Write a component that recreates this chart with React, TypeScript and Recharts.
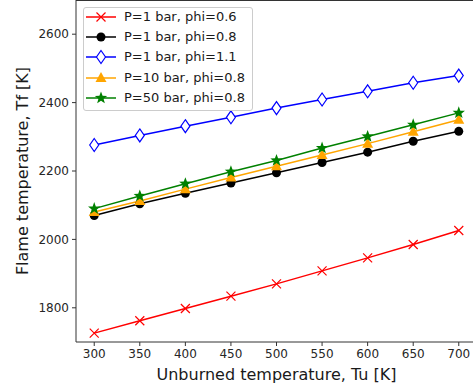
import React from 'react';
import { LineChart, Line, XAxis, YAxis, ReferenceLine } from 'recharts';

const temps = [300, 350, 400, 450, 500, 550, 600, 650, 700];
const p1Phi06 = [1726, 1762, 1798, 1834, 1870, 1908, 1946, 1985, 2026];
const p1Phi08 = [2070, 2104, 2135, 2165, 2195, 2225, 2255, 2287, 2316];
const p1Phi11 = [2276, 2304, 2331, 2357, 2384, 2409, 2433, 2458, 2479];
const p10Phi08 = [2080, 2112, 2147, 2181, 2214, 2247, 2280, 2315, 2350];
const p50Phi08 = [2090, 2127, 2163, 2198, 2231, 2267, 2301, 2335, 2370];
const xTicks = [300, 350, 400, 450, 500, 550, 600, 650, 700];
const yTicks = [1800, 2000, 2200, 2400, 2600];

const data = temps.map((t, i) => ({
  t,
  a: p1Phi06[i],
  b: p1Phi08[i],
  c: p1Phi11[i],
  d: p10Phi08[i],
  e: p50Phi08[i],
}));

type Kind = 'x' | 'o' | 'D' | '^' | '*';

function Marker({ kind, cx, cy, color }: { kind: Kind; cx: number; cy: number; color: string }) {
  if (kind === 'x') {
    const s = 4.5;
    return (
      <path
        d={`M${cx - s},${cy - s}L${cx + s},${cy + s}M${cx - s},${cy + s}L${cx + s},${cy - s}`}
        stroke={color}
        strokeWidth={1.2}
        fill="none"
      />
    );
  }
  if (kind === 'o') return <circle cx={cx} cy={cy} r={4.5} fill={color} />;
  if (kind === 'D') {
    return (
      <path
        d={`M${cx},${cy - 6.5}L${cx + 4.5},${cy}L${cx},${cy + 6.5}L${cx - 4.5},${cy}Z`}
        fill="#fff"
        stroke={color}
        strokeWidth={1.2}
      />
    );
  }
  if (kind === '^') {
    return (
      <path d={`M${cx},${cy - 6}L${cx + 5.5},${cy + 4}L${cx - 5.5},${cy + 4}Z`} fill={color} />
    );
  }
  const pts: string[] = [];
  for (let k = 0; k < 10; k++) {
    const r = k % 2 === 0 ? 6.5 : 2.7;
    const ang = -Math.PI / 2 + (k * Math.PI) / 5;
    pts.push(`${cx + r * Math.cos(ang)},${cy + r * Math.sin(ang)}`);
  }
  return <polygon points={pts.join(' ')} fill={color} />;
}

const series: { key: string; name: string; color: string; kind: Kind }[] = [
  { key: 'a', name: 'P=1 bar, phi=0.6', color: '#ff0000', kind: 'x' },
  { key: 'b', name: 'P=1 bar, phi=0.8', color: '#000000', kind: 'o' },
  { key: 'c', name: 'P=1 bar, phi=1.1', color: '#0000ff', kind: 'D' },
  { key: 'd', name: 'P=10 bar, phi=0.8', color: '#ffa500', kind: '^' },
  { key: 'e', name: 'P=50 bar, phi=0.8', color: '#008000', kind: '*' },
];

const font = 'DejaVu Sans, sans-serif';
const tickStyle = { fontSize: 12, fill: '#262626', fontFamily: font };

export default function App() {
  return (
    <div style={{ position: 'absolute', left: 0, top: 0, width: 473, height: 390, overflow: 'hidden', background: '#fff' }}>
      <LineChart width={480} height={390} data={data} margin={{ top: 0, right: 3, bottom: 0, left: 0 }}>
        <XAxis
          dataKey="t"
          type="number"
          domain={[280, 720]}
          ticks={xTicks}
          height={48}
          tick={tickStyle}
          tickSize={4}
          tickMargin={3}
          axisLine={{ stroke: '#333' }}
          tickLine={{ stroke: '#333' }}
          label={{ value: 'Unburned temperature, Tu [K]', position: 'insideBottom', offset: 10, style: { fontSize: 16, fill: '#1a1a1a', fontFamily: font } }}
        />
        <YAxis
          type="number"
          domain={[1700, 2700]}
          ticks={yTicks}
          width={76}
          tick={tickStyle}
          tickSize={4}
          tickMargin={3}
          axisLine={{ stroke: '#333' }}
          tickLine={{ stroke: '#333' }}
          label={{ value: 'Flame temperature, Tf [K]', angle: -90, position: 'insideLeft', offset: 22, style: { fontSize: 16, fill: '#1a1a1a', fontFamily: font, textAnchor: 'middle' } }}
        />
        <ReferenceLine y={2700} stroke="#333" strokeWidth={2} />
        {series.map((s) => (
          <Line
            key={s.key}
            dataKey={s.key}
            stroke={s.color}
            strokeWidth={1.5}
            isAnimationActive={false}
            dot={(p: any) => <Marker key={`${s.key}-${p.index}`} kind={s.kind} cx={p.cx} cy={p.cy} color={s.color} />}
            activeDot={false}
          />
        ))}
      </LineChart>
      <div
        style={{
          position: 'absolute',
          left: 83,
          top: 7,
          width: 168,
          height: 102,
          border: '1px solid #cccccc',
          borderRadius: 3,
          background: 'rgba(255,255,255,0.85)',
          fontFamily: font,
          fontSize: 13,
          color: '#1a1a1a',
        }}
      >
        {series.map((s, i) => (
          <div key={s.key} style={{ position: 'absolute', left: 0, top: -1 + i * 20.2, height: 20, width: 168 }}>
            <svg width={40} height={20} style={{ position: 'absolute', left: 0, top: 0 }}>
              <line x1={2} y1={10} x2={32} y2={10} stroke={s.color} strokeWidth={1.5} />
              <Marker kind={s.kind} cx={17} cy={10} color={s.color} />
            </svg>
            <span style={{ position: 'absolute', left: 40, top: 2, whiteSpace: 'nowrap' }}>{s.name}</span>
          </div>
        ))}
      </div>
    </div>
  );
}
